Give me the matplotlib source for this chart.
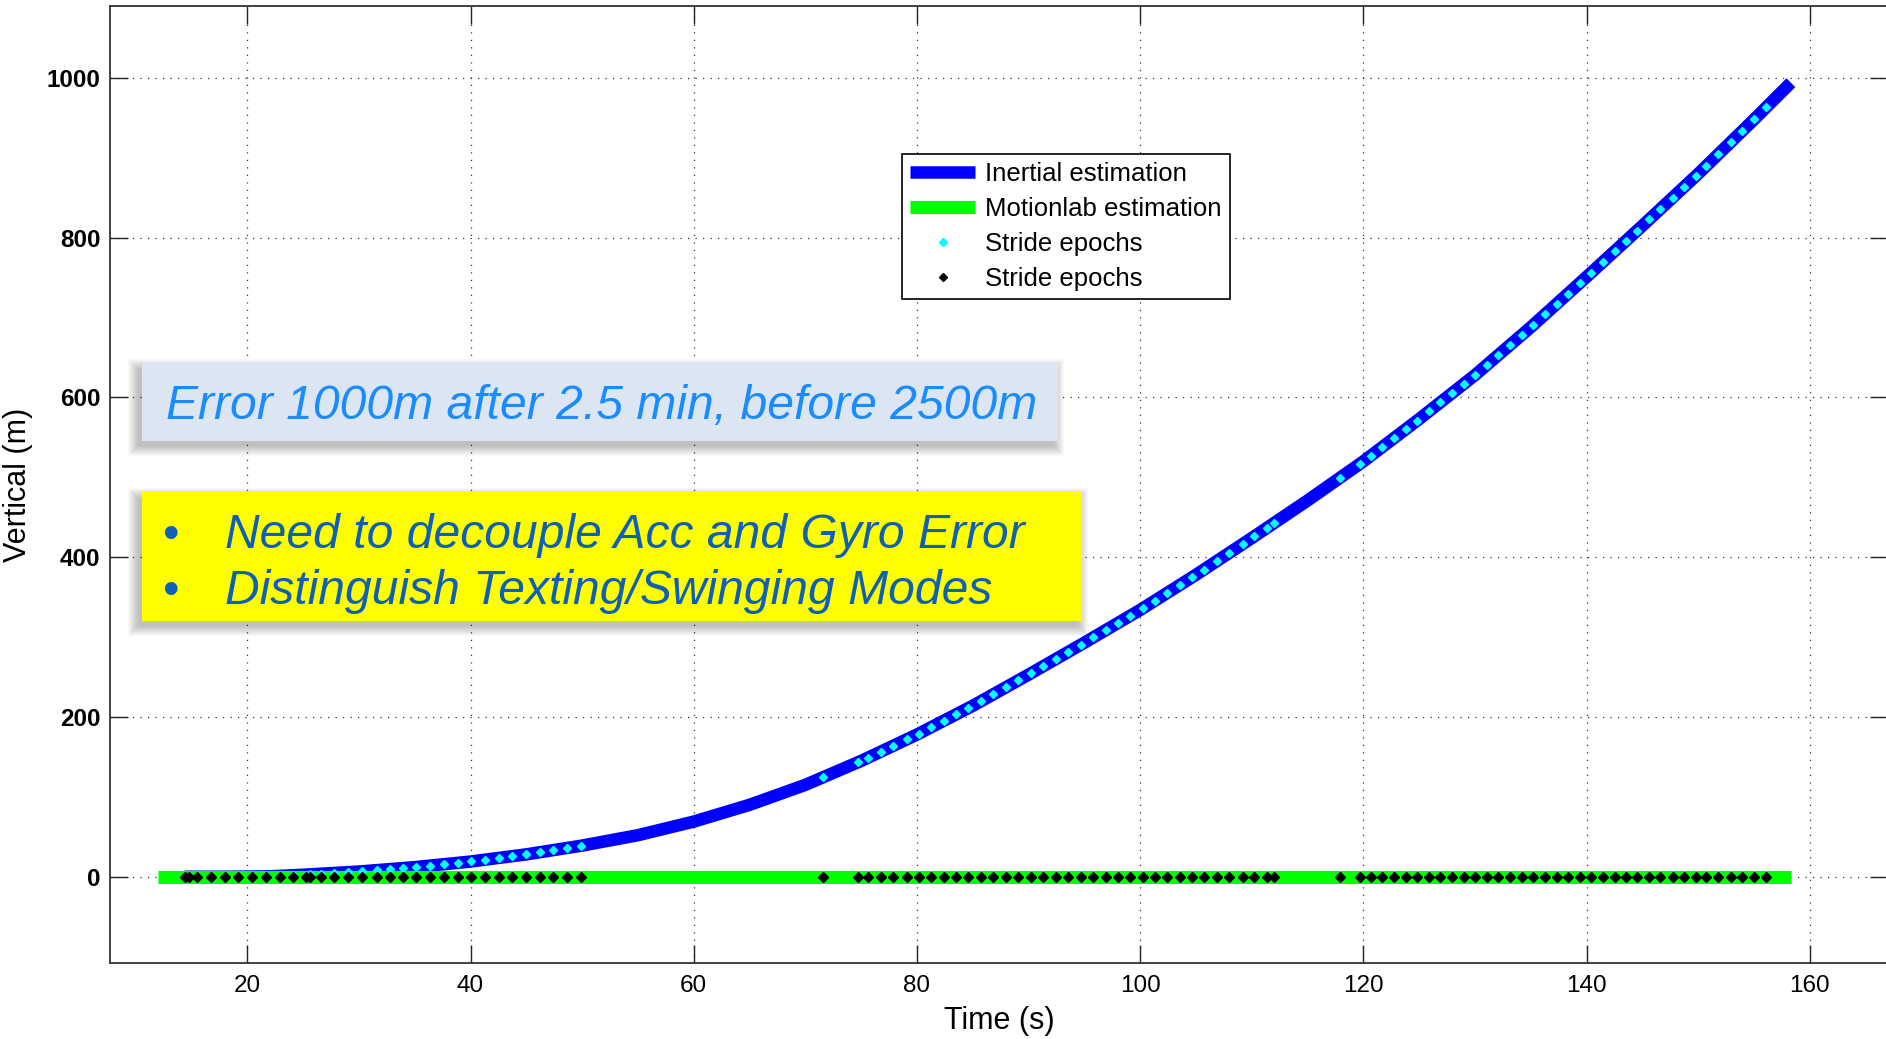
import matplotlib
matplotlib.use('Agg')
import matplotlib.pyplot as plt
import numpy as np
from matplotlib.patches import Rectangle

# ---------------- data ----------------
inertial_t = [14.4, 18, 22, 25, 30, 35, 40, 45, 50, 55, 60, 65, 70, 75, 80, 85,
              90, 95, 100, 105, 110, 115, 120, 125, 130, 135, 140, 145, 150,
              155, 158.3]
inertial_v = [0, 0, 0.5, 2.5, 6.5, 12, 19, 28, 39, 52, 69, 90, 115, 145, 178,
              214, 253, 293, 334, 378, 424, 471, 520, 573, 628, 688, 751, 815,
              880, 948, 994]

motion_t = [12.0, 158.3]
motion_v = [0, 0]

stride_t = [14.40, 14.76, 15.50, 16.73, 17.98, 19.21, 20.43, 21.66, 22.91,
            24.14, 25.30, 25.66, 26.59, 27.78, 29.03, 30.32, 31.58, 32.80,
            33.96, 35.16, 36.38, 37.61, 38.84, 40.05, 41.31, 42.54, 43.76,
            44.98, 46.21, 47.40, 48.66, 49.91,
            71.60, 74.68, 75.63, 76.74, 77.87, 79.07, 80.17, 81.27, 82.41,
            83.49, 84.59, 85.76, 86.83, 87.97, 89.07, 90.18, 91.31, 92.45,
            93.55, 94.66, 95.79, 96.93, 98.00, 99.11, 100.22, 101.29, 102.42,
            103.59, 104.66, 105.71, 106.85, 107.98, 109.18, 110.22, 111.33,
            111.96,
            117.86, 119.68, 120.67, 121.67, 122.73, 123.78, 124.82, 125.86,
            126.90, 127.94, 128.98, 130.02, 131.06, 132.10, 133.14, 134.18,
            135.22, 136.26, 137.30, 138.34, 139.38, 140.42, 141.46, 142.50,
            143.50, 144.50, 145.60, 146.60, 147.70, 148.70, 149.80, 150.70,
            151.80, 152.90, 153.90, 155.00, 156.10]
stride_motion_v = [0.0] * len(stride_t)

xticks = [20, 40, 60, 80, 100, 120, 140, 160]
yticks = [0, 200, 400, 600, 800, 1000]

legend_labels = ['Inertial estimation', 'Motionlab estimation',
                 'Stride epochs', 'Stride epochs']
box1_text = 'Error 1000m after 2.5 min, before 2500m'
box2_lines = ['Need to decouple Acc and Gyro Error',
              'Distinguish Texting/Swinging Modes']

# ---------------- figure ----------------
W, H = 1886, 1039
plt.rcParams['font.family'] = ['Liberation Sans', 'DejaVu Sans']
fig = plt.figure(figsize=(W / 100, H / 100), dpi=100)


def fx(x):
    return x / W


def fy(y):
    return 1 - y / H


ax = fig.add_axes([fx(110), fy(963), (1888 - 110) / W, (963 - 6) / H])
ax.set_xlim(7.7, 167.0)
ax.set_ylim(-108, 1090)

# stride epoch heights on the inertial curve
stride_inertial_v = np.interp(stride_t, inertial_t, inertial_v)

ax.plot(inertial_t, inertial_v, color='#0000FF', lw=9, solid_capstyle='butt',
        solid_joinstyle='round', label=legend_labels[0], zorder=2)
ax.plot(motion_t, motion_v, color='#00FF00', lw=9.5, solid_capstyle='butt',
        label=legend_labels[1], zorder=3)
ax.plot(stride_t, stride_inertial_v, ls='none', marker='D', ms=4.2,
        color='#00FFFF', mec='#00FFFF', label=legend_labels[2], zorder=4)
ax.plot(stride_t, stride_motion_v, ls='none', marker='D', ms=4.6,
        color='black', mec='black', label=legend_labels[3], zorder=5)

ax.set_xticks(xticks)
ax.set_yticks(yticks)
ax.tick_params(direction='in', top=True, right=True, length=13, width=1.0,
               color='#222222')
ax.tick_params(axis='x', pad=9, labelsize=17.5)
ax.tick_params(axis='y', pad=7, labelsize=17.5)
for lab in ax.get_yticklabels():
    lab.set_fontweight('bold')
ax.grid(True, color='#333333', linestyle=(0, (1, 5)), linewidth=0.9)
for s in ax.spines.values():
    s.set_color('#333333')
    s.set_linewidth(1.3)

ax.set_xlabel('Time (s)', fontsize=22, labelpad=6)
ax.set_ylabel('Vertical (m)', fontsize=22, labelpad=10)

leg = ax.legend(loc='upper left', bbox_to_anchor=(fx(902), fy(154)),
                bbox_transform=fig.transFigure, borderaxespad=0,
                fontsize=18.5, fancybox=False, framealpha=1,
                edgecolor='black', handlelength=2.5, handletextpad=0.4,
                labelspacing=0.42, borderpad=0.33, markerscale=0.9)
leg.get_frame().set_linewidth(1.2)


# ---------------- text boxes with soft shadow ----------------
def shadow_box(x0, y0, x1, y1, face):
    for k in range(11, 0, -1):
        r = Rectangle((fx(x0 - k - 3), fy(y1 + k + 4)),
                      (x1 - x0 + 2 * k - 2) / W, (y1 - y0 + 2 * k - 4) / H,
                      transform=fig.transFigure, facecolor='black',
                      edgecolor='none', alpha=0.022, zorder=8)
        fig.add_artist(r)
    r = Rectangle((fx(x0), fy(y1)), (x1 - x0) / W, (y1 - y0) / H,
                  transform=fig.transFigure, facecolor=face,
                  edgecolor='none', zorder=9)
    fig.add_artist(r)


shadow_box(142, 362, 1058, 441, '#DCE6F2')
fig.text(fx(166), fy(419), box1_text, fontsize=34.6, style='italic',
         color='#1A8CFF', va='baseline', ha='left', zorder=10)

shadow_box(142, 491, 1082, 621, '#FFFF00')
for i, line in enumerate(box2_lines):
    yb = [548, 604][i]
    fig.text(fx(170), fy(yb), '\u2022', fontsize=34, color='#0F5FB5',
             va='baseline', ha='center', zorder=10)
    fig.text(fx(225), fy(yb), line, fontsize=34.6, style='italic',
             color='#0F5FB5', va='baseline', ha='left', zorder=10)

fig.savefig('out.png', dpi=100)
